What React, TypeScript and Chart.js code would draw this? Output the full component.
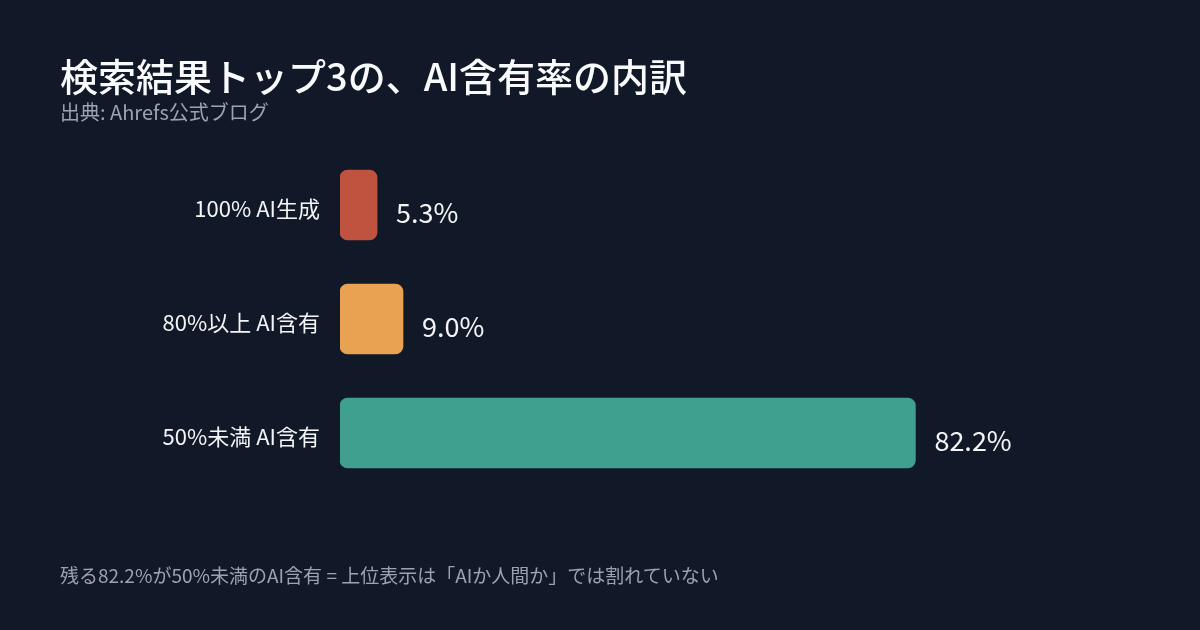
import { useEffect, useRef } from "react"
import { Chart, registerables } from "chart.js"

Chart.register(...registerables)

const FONT = "'Noto Sans CJK JP', 'Noto Sans', sans-serif"

const categories = ["100% AI生成", "80%以上 AI含有", "50%未満 AI含有"]
const shares = [5.3, 9.0, 82.2]
const barColors = ["#c0533f", "#e9a152", "#40a090"]

const title = "検索結果トップ3の、AI含有率の内訳"
const source = "出典: Ahrefs公式ブログ"
const note = "残る82.2%が50%未満のAI含有 = 上位表示は「AIか人間か」では割れていない"

const valueLabels = {
    id: "valueLabels",
    afterDatasetsDraw(chart: any) {
        const ctx = chart.ctx
        const meta = chart.getDatasetMeta(0)
        ctx.save()
        ctx.font = `27px ${FONT}`
        ctx.fillStyle = "#f3f4f6"
        ctx.textAlign = "left"
        ctx.textBaseline = "alphabetic"
        meta.data.forEach((bar: any, i: number) => {
            ctx.fillText(shares[i].toFixed(1) + "%", bar.x + 19, bar.y + 18)
        })
        ctx.restore()
    }
}

const ShareChart = () => {
    const chartRef = useRef<HTMLCanvasElement>(null)
    useEffect(() => {
        if (!chartRef.current)
            return
        const chart = new Chart(chartRef.current, {
            type: "bar",
            plugins: [valueLabels],
            options: {
                animation: false,
                responsive: false,
                indexAxis: "y",
                layout: {
                    padding: { top: 148, bottom: 140, left: 0, right: 160 }
                },
                plugins: {
                    legend: { display: false },
                    tooltip: { enabled: false },
                },
                scales: {
                    x: {
                        display: false,
                        min: 0,
                        max: 100,
                    },
                    y: {
                        afterFit: (scale: any) => { scale.width = 340 },
                        grid: { display: false, drawTicks: false },
                        border: { display: false },
                        ticks: {
                            color: "#f3f4f6",
                            padding: 20,
                            labelOffset: 4,
                            font: { family: FONT, size: 22 },
                        }
                    }
                }
            },
            data: {
                labels: categories,
                datasets: [
                    {
                        data: shares,
                        backgroundColor: barColors,
                        barThickness: 70,
                        borderRadius: 8,
                        borderSkipped: false,
                    }
                ]
            }
        } as any)
        return () => {
            chart.destroy()
        }
    }, [])
    return <canvas ref={chartRef} width={1200} height={630}
        style={{ position: "absolute", left: 0, top: 0, width: 1200, height: 630 }} />
}

export default function App() {
    return <div style={{
        position: "fixed", left: 0, top: 0, width: 1200, height: 630,
        background: "#111827", fontFamily: FONT, overflow: "hidden"
    }}>
        <ShareChart />
        <div style={{
            position: "absolute", left: 60, top: 50, fontSize: 38, fontWeight: 500,
            color: "#f9fafb", lineHeight: "50px", whiteSpace: "nowrap"
        }}>{title}</div>
        <div style={{
            position: "absolute", left: 60, top: 98, fontSize: 20,
            color: "#9ca3af", lineHeight: "28px", whiteSpace: "nowrap"
        }}>{source}</div>
        <div style={{
            position: "absolute", left: 60, top: 562, fontSize: 19,
            color: "#9ca3af", lineHeight: "26px", whiteSpace: "nowrap"
        }}>{note}</div>
    </div>
}
